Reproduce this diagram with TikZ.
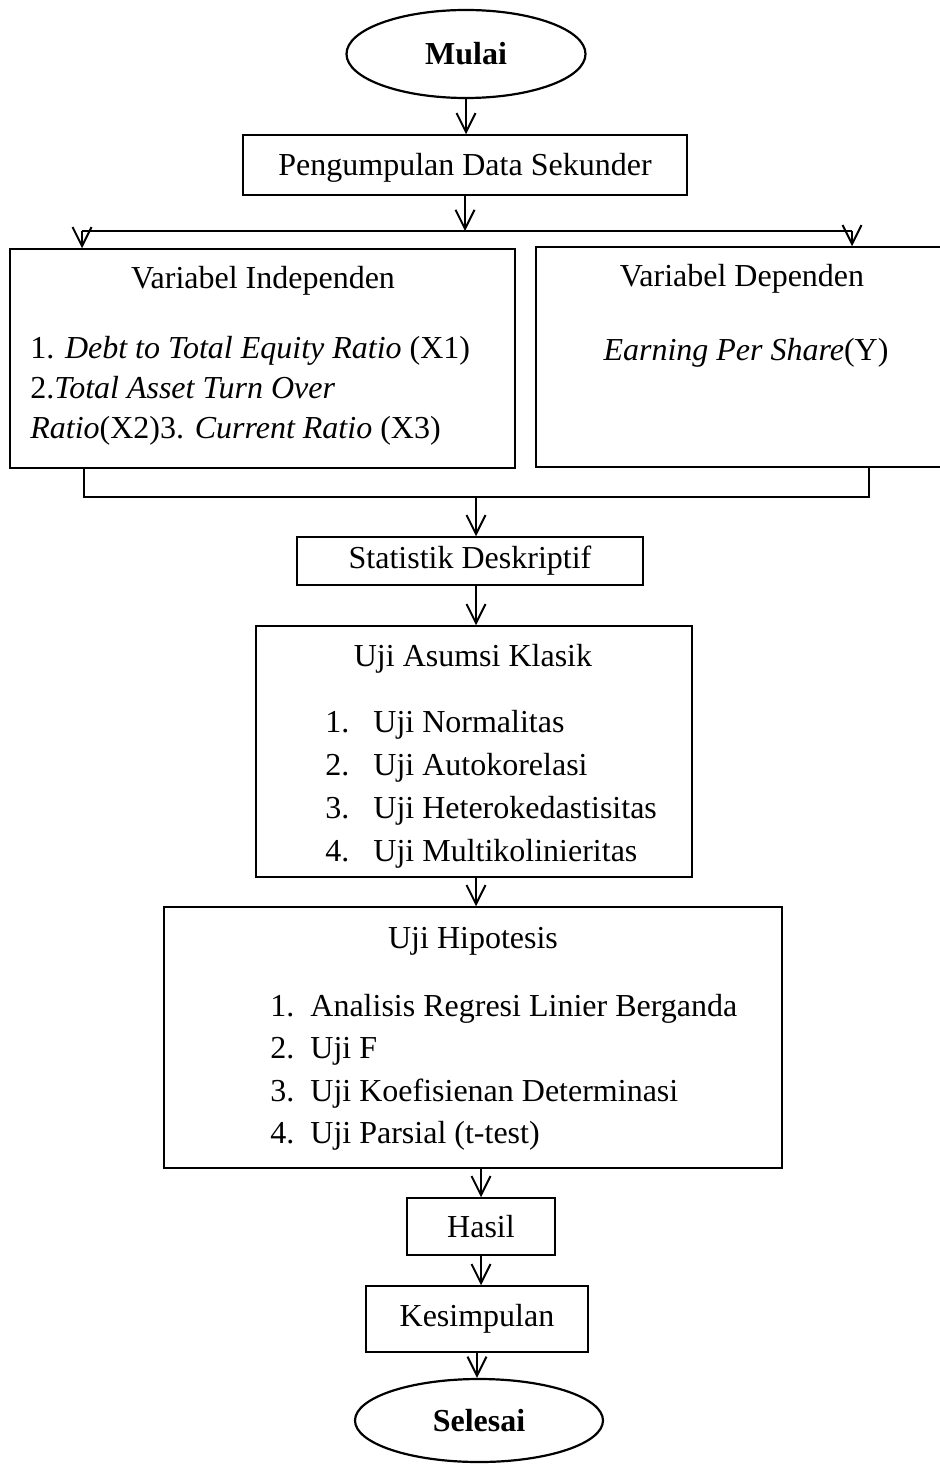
\documentclass[tikz,border=0pt]{standalone}
\usepackage{fontspec}
\setmainfont{Liberation Serif}
\usetikzlibrary{arrows.meta,shapes.geometric,fit}
\begin{document}
\begin{tikzpicture}[
  x=0.5pt, y=-0.5pt,
  every node/.style={font=\fontsize{16pt}{20pt}\selectfont},
  box/.style={draw, line width=0.75pt, rectangle, inner sep=0pt},
  term/.style={draw, line width=1.1pt, ellipse, inner sep=0pt, font=\fontsize{16pt}{20pt}\selectfont\bfseries},
  txt/.style={inner sep=0pt, anchor=base west},
  ctxt/.style={inner sep=0pt, anchor=base},
  link/.style={line width=1pt},
  arr/.style={line width=1pt, -{Straight Barb[length=9.5pt, width=9.5pt, line width=1pt]}},
]
\clip (0,0) rectangle (940,1465);

% start and secondary data collection
\node[term, minimum width=119.5pt, minimum height=44pt] (mulai) at (466,54) {Mulai};
\node[box, fit={(243,135) (687,195)}] (peng) {};
\node at ([yshift=-1.5pt]peng.center) (pengtxt) {Pengumpulan Data Sekunder};

% split into the two variable groups
\coordinate (split) at (465,231);
\coordinate (sl) at (82,231);
\coordinate (sr) at (852,231);
\node[box, fit={(10,249) (515,468)}] (indep) {};
\node[box, fit={(536,247) (960,467)}] (dep) {};

\node[ctxt] (indeptitle) at (263,289) {Variabel Independen};
\node[txt] (x1) at (30,358) {1. \textit{Debt to Total Equity Ratio} (X1)};
\node[txt] (x2) at (30,398) {2.\textit{Total Asset Turn Over}};
\node[txt] (x3) at (30,438) {\textit{Ratio}(X2)3. \textit{Current Ratio} (X3)};

\node[ctxt] (deptitle) at (742,287) {Variabel Dependen};
\node[ctxt] (y) at (746,360) {\textit{Earning Per Share}(Y)};

% join of the two groups
\coordinate (jl) at (84,497);
\coordinate (jr) at (869,497);
\coordinate (jm) at (476,497);

% analysis steps
\node[box, fit={(297,537) (643,585)}] (stat) {};
\node at (stat.center) (stattxt) {Statistik Deskriptif};

\node[box, fit={(256,626) (692,877)}] (asumsi) {};
\node[ctxt] (asumsititle) at (473,666) {Uji Asumsi Klasik};
\node[txt] (a1n) at (325,732) {1.};
\node[txt] (a1) at (373,732) {Uji Normalitas};
\node[txt] (a2n) at (325,775) {2.};
\node[txt] (a2) at (373,775) {Uji Autokorelasi};
\node[txt] (a3n) at (325,818) {3.};
\node[txt] (a3) at (373,818) {Uji Heterokedastisitas};
\node[txt] (a4n) at (325,861) {4.};
\node[txt] (a4) at (373,861) {Uji Multikolinieritas};

\node[box, fit={(164,907) (782,1168)}] (hipo) {};
\node[ctxt] (hipotitle) at (473,948) {Uji Hipotesis};
\node[txt] (h1n) at (270,1016) {1.};
\node[txt] (h1) at (310,1016) {Analisis Regresi Linier Berganda};
\node[txt] (h2n) at (270,1058) {2.};
\node[txt] (h2) at (310,1058) {Uji F};
\node[txt] (h3n) at (270,1101) {3.};
\node[txt] (h3) at (310,1101) {Uji Koefisienan Determinasi};
\node[txt] (h4n) at (270,1143) {4.};
\node[txt] (h4) at (310,1143) {Uji Parsial (t-test)};

\node[box, fit={(407,1198) (555,1255)}] (hasil) {};
\node at (hasil.center) (hasiltxt) {Hasil};

\node[box, fit={(366,1286) (588,1352)}] (kesim) {};
\node at (kesim.center) (kesimtxt) {Kesimpulan};

\node[term, minimum width=124pt, minimum height=41.5pt] (selesai) at (479,1420.5) {Selesai};

% connectors
\draw[arr] (mulai.south) -- (peng.north -| mulai.south);
\draw[arr] (peng.south -| split) -- (split);
\draw[link] (sl) -- (sr);
\draw[arr] (sl) -- (sl |- indep.north);
\draw[arr] (sr) -- (sr |- dep.north);
\draw[link] (indep.south -| jl) -- (jl) -- (jr) -- (dep.south -| jr);
\draw[arr] (jm) -- (stat.north -| jm);
\draw[arr] (stat.south -| jm) -- (asumsi.north -| jm);
\draw[arr] (asumsi.south -| jm) -- (hipo.north -| jm);
\draw[arr] (hipo.south -| hasil.center) -- (hasil.north);
\draw[arr] (hasil.south) -- (kesim.north -| hasil.south);
\draw[arr] (kesim.south) -- (selesai.north -| kesim.south);
\end{tikzpicture}
\end{document}
